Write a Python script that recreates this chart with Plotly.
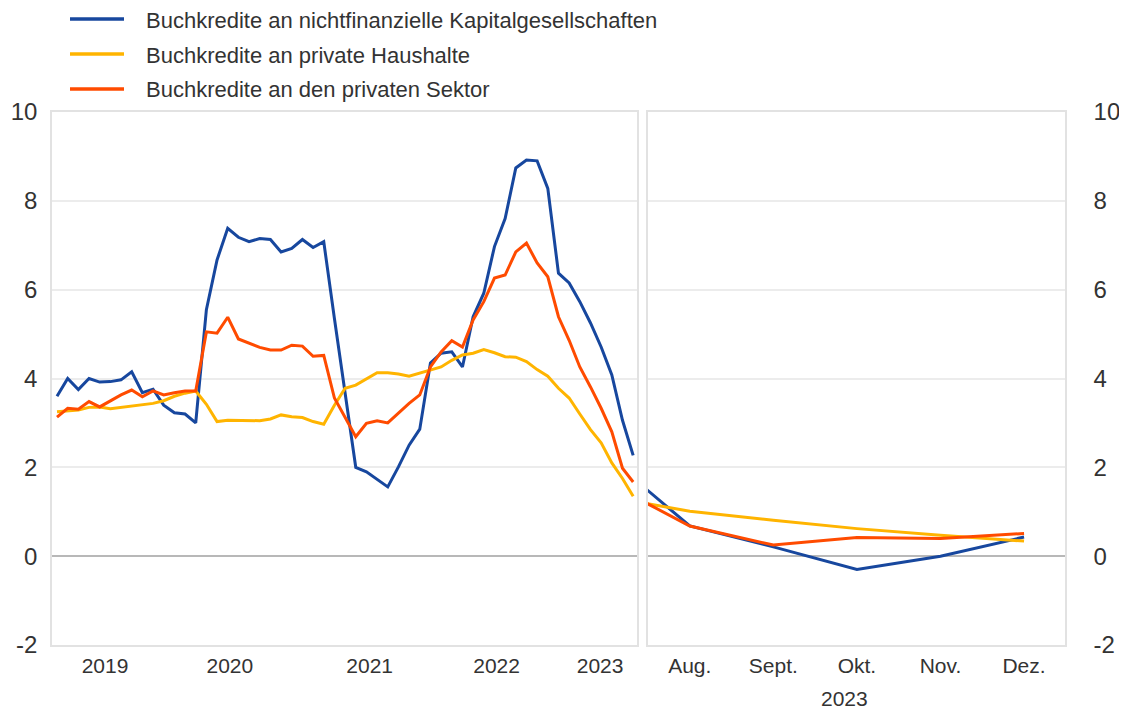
import plotly.graph_objects as go

# Monthly data, Jan 2019 (index 0) to Jul 2023 (index 54)
nfc = [3.6, 4.0, 3.75, 4.0, 3.92, 3.93, 3.97, 4.15, 3.68, 3.76, 3.4, 3.23, 3.2, 3.0,
       5.55, 6.67, 7.38, 7.18, 7.08, 7.15, 7.13, 6.85, 6.93, 7.13, 6.95, 7.08,
       5.35, 3.65, 2.0, 1.9, 1.73, 1.56, 2.01, 2.5, 2.86, 4.35, 4.57, 4.6, 4.26,
       5.39, 5.92, 6.97, 7.6, 8.74, 8.92, 8.9, 8.28, 6.37, 6.15, 5.73, 5.25, 4.71,
       4.08, 3.06, 2.27]
hh = [3.25, 3.27, 3.29, 3.35, 3.36, 3.32, 3.35, 3.38, 3.41, 3.44, 3.5, 3.6, 3.67, 3.72,
      3.42, 3.03, 3.06, 3.06, 3.05, 3.05, 3.09, 3.18, 3.14, 3.12, 3.03, 2.97,
      3.4, 3.78, 3.85, 4.0, 4.13, 4.13, 4.1, 4.05, 4.12, 4.18, 4.26, 4.41, 4.53,
      4.57, 4.65, 4.58, 4.49, 4.48, 4.38, 4.2, 4.05, 3.78, 3.56, 3.2, 2.85, 2.55,
      2.1, 1.75, 1.35]
priv = [3.13, 3.33, 3.31, 3.48, 3.36, 3.5, 3.63, 3.74, 3.59, 3.72, 3.63, 3.68, 3.72, 3.72,
        5.05, 5.02, 5.38, 4.89, 4.8, 4.7, 4.64, 4.64, 4.75, 4.73, 4.5, 4.52,
        3.56, 3.14, 2.69, 2.99, 3.05, 3.0, 3.22, 3.44, 3.63, 4.26, 4.6, 4.85, 4.71,
        5.32, 5.73, 6.26, 6.33, 6.85, 7.05, 6.6, 6.29, 5.39, 4.86, 4.26, 3.81, 3.33,
        2.8, 1.98, 1.67]

# Right panel: Jul..Dec 2023
months_r = ["Jul.", "Aug.", "Sept.", "Okt.", "Nov.", "Dez."]
nfc_r = [2.27, 0.68, 0.21, -0.3, 0.0, 0.43]
hh_r = [1.35, 1.01, 0.81, 0.62, 0.47, 0.34]
priv_r = [1.67, 0.68, 0.25, 0.42, 0.4, 0.51]

year_labels = ["2019", "2020", "2021", "2022", "2023"]
year_pos = [4.5, 16.2, 29.3, 41.2, 50.9]

names = ["Buchkredite an nichtfinanzielle Kapitalgesellschaften",
         "Buchkredite an private Haushalte",
         "Buchkredite an den privaten Sektor"]
colors = ["#17479E", "#FFB400", "#FF4B00"]

# The page body has an 8 px margin: work in screen pixels, subtract OFF
OFF = 8
W, H = 1127 - OFF, 711 - OFF
PL, PR, PT, PB = 52, 1065, 112, 645          # plot area in screen pixels
L, T = PL - OFF, PT - OFF
R, B = W - (PR - OFF), H - (PB - OFF)
pw = W - L - R
ph = H - T - B
FONT = "Liberation Sans, Arial, sans-serif"
TXT = "#333333"


def px_x(p):
    return (p - PL) / pw


def px_y(p):
    return (PB - p) / ph


fig = go.Figure()
xl = list(range(len(nfc)))
xr = list(range(len(months_r)))
for i, (s, sr) in enumerate([(nfc, nfc_r), (hh, hh_r), (priv, priv_r)]):
    fig.add_trace(go.Scatter(x=xl, y=s, mode="lines", name=names[i],
                             line=dict(color=colors[i], width=3),
                             showlegend=False, xaxis="x", yaxis="y"))
    fig.add_trace(go.Scatter(x=xr, y=sr, mode="lines", name=names[i],
                             line=dict(color=colors[i], width=3), showlegend=False,
                             xaxis="x2", yaxis="y2"))

ytv = [-2, 0, 2, 4, 6, 8, 10]
ytt = ["-2", "0", "2", "4", "6", "8", "10"]
grid = "#ececec"
border = "#e2e2e2"
common_y = dict(range=[-2, 10], tickvals=ytv, ticktext=ytt, showgrid=True, gridcolor=grid,
                gridwidth=1.5, zeroline=True, zerolinecolor="#b8b8b8", zerolinewidth=1.5,
                tickfont=dict(size=24, color=TXT, family=FONT), fixedrange=True,
                showline=True, linecolor=border, linewidth=1.5, mirror=True, ticks="")
common_x = dict(showgrid=False, zeroline=False, ticks="",
                tickfont=dict(size=21, color=TXT, family=FONT), ticklabelstandoff=1,
                showline=True, linecolor=border, linewidth=1.5, mirror=True, fixedrange=True)

fig.update_layout(
    width=W, height=H,
    margin=dict(l=L, r=R, t=T, b=B, autoexpand=False),
    paper_bgcolor="white", plot_bgcolor="white",
    font=dict(family=FONT, color=TXT),
    showlegend=False,
    xaxis=dict(domain=[0, px_x(637)], range=[-0.47, 54.36], tickvals=year_pos,
               ticktext=year_labels, anchor="y", **common_x),
    xaxis2=dict(domain=[px_x(648), 1], range=[0.5, 5.49], tickvals=xr[1:],
                ticktext=months_r[1:], anchor="y2", **common_x),
    yaxis=dict(anchor="x", side="left", ticklabelstandoff=8, **common_y),
    yaxis2=dict(anchor="x2", side="right", ticklabelstandoff=22, **common_y),
)

# "2023" beneath the monthly labels
fig.add_annotation(text="2023", x=2.85, y=px_y(698), xref="x2", yref="paper",
                   yanchor="middle", showarrow=False,
                   font=dict(size=21, color=TXT, family=FONT))

# Legend (key lines + labels)
leg_y = [19, 54, 89]
for i in range(3):
    fig.add_shape(type="line", xref="paper", yref="paper",
                  x0=px_x(70), x1=px_x(124), y0=px_y(leg_y[i]), y1=px_y(leg_y[i]),
                  line=dict(color=colors[i], width=3.5))
    fig.add_annotation(text=names[i], x=px_x(144), y=px_y(leg_y[i] + 1), xref="paper",
                       yref="paper", xanchor="left", yanchor="middle", showarrow=False,
                       font=dict(size=22, color=TXT, family=FONT))

fig.write_html("out.html")
